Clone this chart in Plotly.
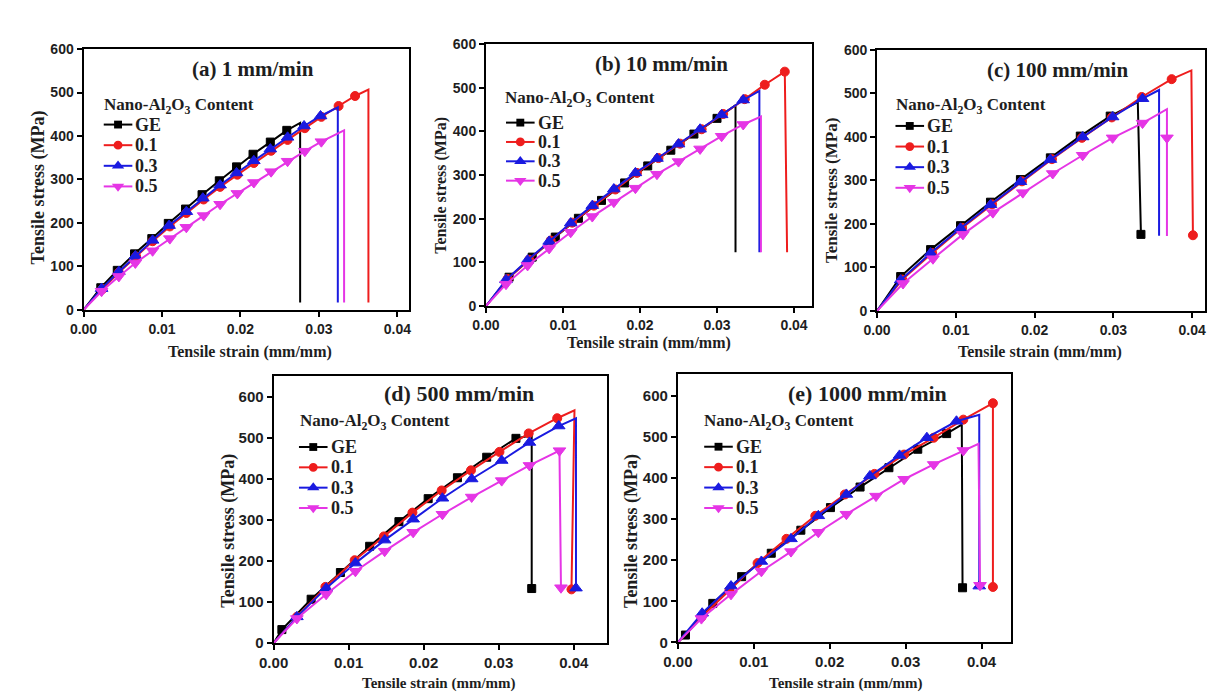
import plotly.graph_objects as go

W, H = 1212, 699

# ---------------- tensile test data (strain mm/mm, stress MPa) ----------------
# flag 1 = sample drawn with a symbol, 0 = path vertex only
series_names = ["GE", "0.1", "0.3", "0.5"]
rate_labels = ["(a) 1 mm/min", "(b) 10 mm/min", "(c) 100 mm/min",
               "(d) 500 mm/min", "(e) 1000 mm/min"]

# (a) 1 mm/min
a_ge_strain = [0, 0.0022, 0.0043, 0.0065, 0.0087, 0.0108, 0.0130, 0.0151, 0.0173, 0.0195, 0.0216, 0.0238, 0.0259, 0.0276, 0.0276]
a_ge_stress = [0, 51, 91, 129, 164, 199, 232, 265, 297, 329, 358, 386, 413, 430, 17]
a_ge_mark = [0, 1, 1, 1, 1, 1, 1, 1, 1, 1, 1, 1, 1, 0, 0]
a_01_strain = [0, 0.0024, 0.0045, 0.0067, 0.0088, 0.0110, 0.0131, 0.0153, 0.0174, 0.0196, 0.0217, 0.0239, 0.0260, 0.0282, 0.0303, 0.0325, 0.0346, 0.0363, 0.0363]
a_01_stress = [0, 48, 86, 123, 158, 192, 223, 254, 283, 311, 338, 366, 391, 418, 444, 469, 492, 507, 17]
a_01_mark = [0, 1, 1, 1, 1, 1, 1, 1, 1, 1, 1, 1, 1, 1, 1, 1, 1, 0, 0]
a_03_strain = [0, 0.0023, 0.0045, 0.0066, 0.0088, 0.0109, 0.0131, 0.0152, 0.0174, 0.0195, 0.0217, 0.0238, 0.0260, 0.0281, 0.0302, 0.0324, 0.0324]
a_03_stress = [0, 49, 88, 124, 160, 194, 226, 257, 287, 315, 343, 370, 397, 423, 446, 466, 17]
a_03_mark = [0, 1, 1, 1, 1, 1, 1, 1, 1, 1, 1, 1, 1, 1, 1, 0, 0]
a_05_strain = [0, 0.0023, 0.0045, 0.0066, 0.0088, 0.0110, 0.0131, 0.0153, 0.0174, 0.0196, 0.0217, 0.0239, 0.0260, 0.0282, 0.0303, 0.0332, 0.0332]
a_05_stress = [0, 43, 77, 108, 136, 164, 190, 217, 243, 268, 293, 318, 342, 365, 387, 413, 17]
a_05_mark = [0, 1, 1, 1, 1, 1, 1, 1, 1, 1, 1, 1, 1, 1, 1, 0, 0]

# (b) 10 mm/min
b_ge_strain = [0, 0.0030, 0.0060, 0.0090, 0.0120, 0.0150, 0.0180, 0.0210, 0.0240, 0.0270, 0.0300, 0.0324, 0.0324]
b_ge_stress = [0, 66, 112, 158, 201, 242, 282, 321, 357, 394, 430, 460, 123]
b_ge_mark = [0, 1, 1, 1, 1, 1, 1, 1, 1, 1, 1, 0, 0]
b_01_strain = [0, 0.0028, 0.0056, 0.0084, 0.0112, 0.0140, 0.0168, 0.0196, 0.0224, 0.0252, 0.0280, 0.0308, 0.0336, 0.0362, 0.0388, 0.0391]
b_01_stress = [0, 62, 106, 150, 191, 230, 267, 305, 339, 372, 405, 440, 474, 507, 537, 123]
b_01_mark = [0, 1, 1, 1, 1, 1, 1, 1, 1, 1, 1, 1, 1, 1, 1, 0]
b_03_strain = [0, 0.0026, 0.0054, 0.0082, 0.0110, 0.0138, 0.0166, 0.0194, 0.0222, 0.0250, 0.0278, 0.0306, 0.0334, 0.0355, 0.0355]
b_03_stress = [0, 60, 105, 148, 190, 230, 268, 305, 338, 371, 405, 438, 472, 493, 123]
b_03_mark = [0, 1, 1, 1, 1, 1, 1, 1, 1, 1, 1, 1, 1, 0, 0]
b_05_strain = [0, 0.0026, 0.0054, 0.0082, 0.0110, 0.0138, 0.0166, 0.0194, 0.0222, 0.0250, 0.0278, 0.0306, 0.0334, 0.0357, 0.0357]
b_05_stress = [0, 50, 93, 132, 169, 205, 238, 270, 302, 331, 360, 389, 416, 434, 123]
b_05_mark = [0, 1, 1, 1, 1, 1, 1, 1, 1, 1, 1, 1, 1, 0, 0]

# (c) 100 mm/min
c_ge_strain = [0, 0.0030, 0.0068, 0.0106, 0.0144, 0.0182, 0.0220, 0.0258, 0.0296, 0.0331, 0.0335]
c_ge_stress = [0, 79, 141, 196, 250, 302, 352, 402, 448, 480, 176]
c_ge_mark = [0, 1, 1, 1, 1, 1, 1, 1, 1, 0, 1]
c_01_strain = [0, 0.0032, 0.0070, 0.0108, 0.0146, 0.0184, 0.0222, 0.0260, 0.0298, 0.0336, 0.0374, 0.0399, 0.0401]
c_01_stress = [0, 72, 133, 191, 245, 298, 349, 398, 445, 492, 533, 553, 174]
c_01_mark = [0, 1, 1, 1, 1, 1, 1, 1, 1, 1, 1, 0, 1]
c_03_strain = [0, 0.0030, 0.0068, 0.0106, 0.0144, 0.0182, 0.0220, 0.0261, 0.0299, 0.0337, 0.0358, 0.0358]
c_03_stress = [0, 71, 133, 190, 244, 297, 348, 400, 446, 488, 508, 173]
c_03_mark = [0, 1, 1, 1, 1, 1, 1, 1, 1, 1, 0, 0]
c_05_strain = [0, 0.0033, 0.0071, 0.0109, 0.0147, 0.0185, 0.0223, 0.0261, 0.0299, 0.0337, 0.0368, 0.0368, 0.0368]
c_05_stress = [0, 63, 120, 176, 226, 272, 316, 358, 398, 432, 464, 398, 172]
c_05_mark = [0, 1, 1, 1, 1, 1, 1, 1, 1, 1, 0, 1, 0]

# (d) 500 mm/min
d_ge_strain = [0, 0.0011, 0.0050, 0.0089, 0.0128, 0.0167, 0.0206, 0.0245, 0.0284, 0.0323, 0.0344, 0.0344]
d_ge_stress = [0, 33, 107, 172, 236, 296, 352, 403, 453, 499, 506, 133]
d_ge_mark = [0, 1, 1, 1, 1, 1, 1, 1, 1, 1, 0, 1]
d_01_strain = [0, 0.0031, 0.0069, 0.0108, 0.0147, 0.0185, 0.0224, 0.0263, 0.0301, 0.0340, 0.0378, 0.0401, 0.0397]
d_01_stress = [0, 64, 137, 202, 260, 318, 372, 421, 466, 511, 548, 567, 131]
d_01_mark = [0, 1, 1, 1, 1, 1, 1, 1, 1, 1, 1, 0, 1]
d_03_strain = [0, 0.0031, 0.0070, 0.0109, 0.0148, 0.0186, 0.0225, 0.0264, 0.0304, 0.0341, 0.0380, 0.0403, 0.0403]
d_03_stress = [0, 64, 134, 195, 251, 302, 353, 400, 445, 489, 529, 548, 134]
d_03_mark = [0, 1, 1, 1, 1, 1, 1, 1, 1, 1, 1, 0, 1]
d_05_strain = [0, 0.0031, 0.0070, 0.0109, 0.0148, 0.0186, 0.0225, 0.0264, 0.0304, 0.0341, 0.0381, 0.0383]
d_05_stress = [0, 60, 119, 175, 224, 270, 314, 356, 396, 433, 469, 135]
d_05_mark = [0, 1, 1, 1, 1, 1, 1, 1, 1, 1, 1, 1]

# (e) 1000 mm/min
e_ge_strain = [0, 0.0010, 0.0046, 0.0084, 0.0123, 0.0162, 0.0201, 0.0240, 0.0278, 0.0316, 0.0354, 0.0374, 0.0375]
e_ge_stress = [0, 18, 95, 160, 217, 273, 328, 378, 425, 470, 508, 530, 133]
e_ge_mark = [0, 1, 1, 1, 1, 1, 1, 1, 1, 1, 1, 0, 1]
e_01_strain = [0, 0.0031, 0.0068, 0.0105, 0.0143, 0.0181, 0.0220, 0.0259, 0.0298, 0.0337, 0.0376, 0.0415, 0.0415]
e_01_stress = [0, 62, 127, 193, 252, 308, 360, 410, 457, 498, 542, 582, 135]
e_01_mark = [0, 1, 1, 1, 1, 1, 1, 1, 1, 1, 1, 1, 1]
e_03_strain = [0, 0.0032, 0.0070, 0.0110, 0.0149, 0.0185, 0.0222, 0.0253, 0.0292, 0.0328, 0.0367, 0.0397, 0.0397]
e_03_stress = [0, 71, 137, 197, 252, 308, 360, 405, 455, 498, 538, 554, 137]
e_03_mark = [0, 1, 1, 1, 1, 1, 1, 1, 1, 1, 1, 0, 1]
e_05_strain = [0, 0.0031, 0.0070, 0.0110, 0.0149, 0.0185, 0.0222, 0.0261, 0.0298, 0.0337, 0.0376, 0.0396, 0.0398]
e_05_stress = [0, 58, 117, 173, 221, 268, 312, 356, 397, 433, 467, 483, 139]
e_05_mark = [0, 1, 1, 1, 1, 1, 1, 1, 1, 1, 1, 0, 1]

x_ticks = [0.00, 0.01, 0.02, 0.03, 0.04]
y_ticks = [0, 100, 200, 300, 400, 500, 600]

panel_data = [
    [(a_ge_strain, a_ge_stress, a_ge_mark), (a_01_strain, a_01_stress, a_01_mark),
     (a_03_strain, a_03_stress, a_03_mark), (a_05_strain, a_05_stress, a_05_mark)],
    [(b_ge_strain, b_ge_stress, b_ge_mark), (b_01_strain, b_01_stress, b_01_mark),
     (b_03_strain, b_03_stress, b_03_mark), (b_05_strain, b_05_stress, b_05_mark)],
    [(c_ge_strain, c_ge_stress, c_ge_mark), (c_01_strain, c_01_stress, c_01_mark),
     (c_03_strain, c_03_stress, c_03_mark), (c_05_strain, c_05_stress, c_05_mark)],
    [(d_ge_strain, d_ge_stress, d_ge_mark), (d_01_strain, d_01_stress, d_01_mark),
     (d_03_strain, d_03_stress, d_03_mark), (d_05_strain, d_05_stress, d_05_mark)],
    [(e_ge_strain, e_ge_stress, e_ge_mark), (e_01_strain, e_01_stress, e_01_mark),
     (e_03_strain, e_03_stress, e_03_mark), (e_05_strain, e_05_stress, e_05_mark)],
]

# ---------------- styling ----------------
COLORS = ["#000000", "#ee1d1d", "#1a1ae0", "#e535e5"]
SYMBOLS = ["square", "circle", "triangle-up", "triangle-down"]
SYM_SIZE = [8, 9, 11, 11]
SERIF = "Liberation Serif"
SANS = "Liberation Sans"
TXT = "#1e1e1e"

# panel frames in pixels: left, right, top, bottom, x max, y max, tick font size
frames = [
    (69.5, 400, 42, 309, 0.04152, 600, 14),
    (477.7, 808, 37, 305, 0.04229, 600, 14),
    (874.3, 1207, 43, 310, 0.04164, 600, 14),
    (262.3, 600, 377, 650, 0.04438, 650, 15),
    (672.3, 1010, 375, 649.3, 0.04386, 652, 15),
]
# (x, y, font size) of the panel captions and axis titles
title_pos = [(241, 62, 21), (656, 57, 21), (1057, 63, 21), (450, 395, 22), (865, 395, 22)]
xtitle_pos = [(238, 352, 16), (643, 343, 16), (1040, 352, 16), (430, 691, 15), (843, 691, 15)]
ytitle_pos = [(24, 184, 18), (432, 181, 16), (828, 187, 17), (217, 535, 18), (626, 535, 18)]
# legend: title left, title y, line start x, first item y, item gap
legend_pos = [
    (88, 100, 90, 119.3, 21.1),
    (495, 93.3, 498, 117.3, 19.8),
    (891.7, 100, 893, 120.7, 21.1),
    (287, 423.3, 288, 449.3, 20.8),
    (697, 423.3, 699, 449, 20.9),
]


def px(x):
    return x / W


def py(y):
    return 1 - y / H


fig = go.Figure()
layout = dict(
    width=W, height=H, margin=dict(l=0, r=0, t=0, b=0),
    paper_bgcolor="white", plot_bgcolor="white", showlegend=False,
)
annotations = []
shapes = []

for i, (L, R, T, B, xmax, ymax, tfs) in enumerate(frames):
    n = i + 1
    xa, ya = ("x%d" % n if n > 1 else "x"), ("y%d" % n if n > 1 else "y")
    axis_common = dict(
        showline=True, linecolor="black", linewidth=2, mirror=True,
        ticks="outside", ticklen=5, tickwidth=2, tickcolor="black",
        showgrid=False, zeroline=False,
        tickfont=dict(family=SANS, size=tfs, color=TXT, weight="bold"),
    )
    layout["xaxis%d" % n] = dict(
        axis_common, domain=[px(L), px(R)], range=[0, xmax], anchor=ya,
        tickvals=x_ticks, ticktext=["%.2f" % v for v in x_ticks],
    )
    layout["yaxis%d" % n] = dict(
        axis_common, domain=[py(B), py(T)], range=[0, ymax], anchor=xa,
        tickvals=y_ticks, ticktext=[str(v) for v in y_ticks],
    )

    for s, (sx, sy, mk) in enumerate(panel_data[i]):
        fig.add_trace(go.Scatter(
            x=sx, y=sy, mode="lines", xaxis=xa, yaxis=ya,
            line=dict(color=COLORS[s], width=2), hoverinfo="skip",
        ))
        fig.add_trace(go.Scatter(
            x=[v for v, f in zip(sx, mk) if f], y=[v for v, f in zip(sy, mk) if f],
            mode="markers", xaxis=xa, yaxis=ya, name=series_names[s],
            marker=dict(symbol=SYMBOLS[s], size=SYM_SIZE[s], color=COLORS[s],
                        line=dict(color=COLORS[s], width=1)),
            cliponaxis=False,
        ))

    # panel title
    tx, ty, tfz = title_pos[i]
    annotations.append(dict(
        x=px(tx), y=py(ty), xref="paper", yref="paper", showarrow=False,
        text=rate_labels[i], xanchor="center", yanchor="middle",
        font=dict(family=SERIF, size=tfz, color=TXT, weight="bold"),
    ))
    # axis titles
    ax_, ay_, afs = xtitle_pos[i]
    annotations.append(dict(
        x=px(ax_), y=py(ay_), xref="paper", yref="paper", showarrow=False,
        text="Tensile strain (mm/mm)", xanchor="center", yanchor="middle",
        font=dict(family=SERIF, size=afs, color=TXT, weight="bold"),
    ))
    bx_, by_, bfs = ytitle_pos[i]
    annotations.append(dict(
        x=px(bx_), y=py(by_), xref="paper", yref="paper", showarrow=False,
        text="Tensile stress (MPa)", xanchor="center", yanchor="middle", textangle=-90,
        font=dict(family=SERIF, size=bfs, color=TXT, weight="bold"),
    ))

    # legend block
    tl, tyy, lx0, iy0, gap = legend_pos[i]
    annotations.append(dict(
        x=px(tl), y=py(tyy), xref="paper", yref="paper", showarrow=False,
        text="Nano-Al<sub>2</sub>O<sub>3</sub> Content", xanchor="left", yanchor="middle",
        font=dict(family=SERIF, size=17, color=TXT, weight="bold"),
    ))
    seg = 29
    for s in range(4):
        yy = iy0 + s * gap
        cx = lx0 + seg / 2
        shapes.append(dict(type="line", xref="paper", yref="paper",
                           x0=px(lx0), x1=px(lx0 + seg), y0=py(yy), y1=py(yy),
                           line=dict(color=COLORS[s], width=2)))
        sym = SYMBOLS[s]
        if sym == "square":
            r = 4
            shapes.append(dict(type="rect", xref="paper", yref="paper",
                               x0=px(cx - r), x1=px(cx + r), y0=py(yy + r), y1=py(yy - r),
                               fillcolor=COLORS[s], line=dict(width=0)))
        elif sym == "circle":
            r = 4.5
            shapes.append(dict(type="circle", xref="paper", yref="paper",
                               x0=px(cx - r), x1=px(cx + r), y0=py(yy + r), y1=py(yy - r),
                               fillcolor=COLORS[s], line=dict(width=0)))
        else:
            hw, top, base = 6.3, 5.5, 2.75
            if sym == "triangle-up":
                pts = [(cx - hw, yy + base), (cx + hw, yy + base), (cx, yy - top)]
            else:
                pts = [(cx - hw, yy - base), (cx + hw, yy - base), (cx, yy + top)]
            path = "M " + " L ".join("%.5f,%.5f" % (px(a), py(b)) for a, b in pts) + " Z"
            shapes.append(dict(type="path", xref="paper", yref="paper", path=path,
                               fillcolor=COLORS[s], line=dict(width=0)))
        annotations.append(dict(
            x=px(lx0 + seg + 1), y=py(yy), xref="paper", yref="paper", showarrow=False,
            text=series_names[s], xanchor="left", yanchor="middle",
            font=dict(family=SERIF, size=18, color=TXT, weight="bold"),
        ))

layout["annotations"] = annotations
layout["shapes"] = shapes
fig.update_layout(**layout)
fig.write_html("out.html")
